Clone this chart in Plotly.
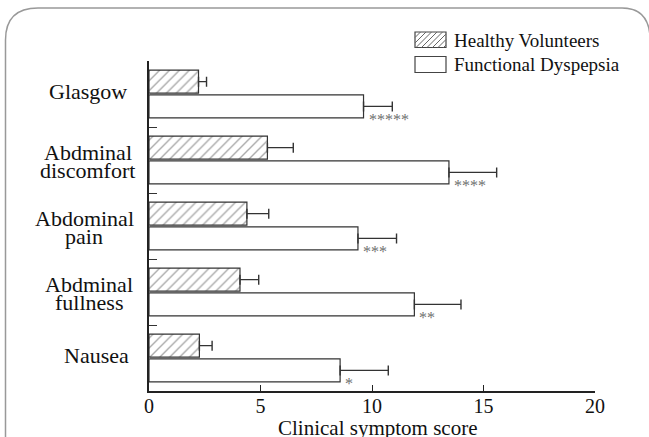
import plotly.graph_objects as go

# Symptom categories (top to bottom) and their two-line display labels
categories = ["Glasgow", "Abdminal discomfort", "Abdominal pain", "Abdminal fullness", "Nausea"]
label_lines = [["Glasgow"], ["Abdminal", "discomfort"], ["Abdominal", "pain"],
               ["Abdminal", "fullness"], ["Nausea"]]

# Mean clinical symptom scores and upper error (SD)
healthy = [2.22, 5.31, 4.39, 4.08, 2.26]
healthy_err = [0.36, 1.16, 0.98, 0.84, 0.57]
dyspepsia = [9.62, 13.45, 9.37, 11.90, 8.57]
dyspepsia_err = [1.29, 2.14, 1.73, 2.09, 2.16]
significance = ["*****", "****", "***", "**", "*"]

x_ticks = [0, 5, 10, 15, 20]

FONT = "Liberation Serif"
W, H = 649, 437
ML, MR, MT, MB = 149, 54, 61, 46
PW, PH = W - ML - MR, H - MT - MB


def px(x):
    return (x - ML) / PW


def py(y):
    return (H - MB - y) / PH


fig = go.Figure()

fig.add_trace(go.Bar(
    name="Healthy Volunteers", y=categories, x=healthy, orientation="h",
    marker=dict(color="white", line=dict(color="#333", width=1.2),
                pattern=dict(shape="/", fgcolor="#555", bgcolor="white", size=7, solidity=0.2)),
    error_x=dict(type="data", symmetric=False, array=healthy_err, arrayminus=[0] * 5,
                 color="#333", thickness=1.4, width=5),
))
fig.add_trace(go.Bar(
    name="Functional Dyspepsia", y=categories, x=dyspepsia, orientation="h",
    marker=dict(color="white", line=dict(color="#333", width=1.2)),
    error_x=dict(type="data", symmetric=False, array=dyspepsia_err, arrayminus=[0] * 5,
                 color="#333", thickness=1.4, width=5),
))

annotations = []
# Category labels, one annotation per line for tight line spacing
label_cx = [88, 87.5, 84, 89, 96]
for cat, lines, cx in zip(categories, label_lines, label_cx):
    shifts = [2.5] if len(lines) == 1 else [7.8, -10.2]
    for text, ys in zip(lines, shifts):
        annotations.append(dict(
            text=text, xref="paper", x=px(cx), xanchor="center",
            yref="y", y=cat, yanchor="middle", yshift=ys, showarrow=False,
            font=dict(family=FONT, size=22, color="#111")))

# Significance markers next to the dyspepsia bars
for cat, val, stars in zip(categories, dyspepsia, significance):
    annotations.append(dict(
        text=stars, xref="x", x=val, xanchor="left", xshift=3,
        yref="y", y=cat, yanchor="middle", yshift=-25, showarrow=False,
        font=dict(family=FONT, size=16, color="#6f6f6f")))

# Axis title
annotations.append(dict(
    text="Clinical symptom score", xref="paper", x=px(377), xanchor="center",
    yref="paper", y=py(428), yanchor="middle", showarrow=False,
    font=dict(family=FONT, size=21, color="#111")))

# Legend text
for text, yc in [("Healthy Volunteers", 40.5), ("Functional Dyspepsia", 64.5)]:
    annotations.append(dict(
        text=text, xref="paper", x=px(452), xanchor="left",
        yref="paper", y=py(yc), yanchor="middle", showarrow=False,
        font=dict(family=FONT, size=19, color="#111")))

shapes = []
# Legend swatches
for y0, y1 in [(32, 47.5), (56.5, 72.5)]:
    shapes.append(dict(type="rect", xref="paper", yref="paper",
                       x0=px(415), x1=px(446), y0=py(y1), y1=py(y0),
                       line=dict(color="#444", width=1.2), fillcolor="white"))
# Hatching inside the first swatch
bx0, bx1, by0, by1 = 415, 446, 32, 47.5
h = by1 - by0
s = -h
while s < bx1 - bx0:
    xa, ya = bx0 + s, by1
    xb, yb = bx0 + s + h, by0
    if xa < bx0:
        t = bx0 - xa
        xa, ya = bx0, by1 - t
    if xb > bx1:
        t = xb - bx1
        xb, yb = bx1, by0 + t
    if xb > xa:
        shapes.append(dict(type="line", xref="paper", yref="paper",
                           x0=px(xa), y0=py(ya), x1=px(xb), y1=py(yb),
                           line=dict(color="#666", width=1)))
    s += 5.5

# Rounded frame around the figure
frame = (f"M {px(5.5)},{py(445)} L {px(5.5)},{py(40)} "
         f"Q {px(5.5)},{py(8)} {px(38)},{py(8)} "
         f"L {px(622)},{py(8)} "
         f"Q {px(648)},{py(8)} {px(650)},{py(36)}")
shapes.append(dict(type="path", xref="paper", yref="paper", path=frame,
                   line=dict(color="#999", width=1.5)))

fig.update_layout(
    width=W, height=H,
    margin=dict(l=ML, r=MR, t=MT, b=MB),
    paper_bgcolor="white", plot_bgcolor="white",
    barmode="group", bargap=0.25, bargroupgap=0.07,
    showlegend=False,
    font=dict(family=FONT, color="#111"),
    xaxis=dict(range=[0, 20], tickvals=x_ticks, ticks="inside", ticklen=6,
               tickwidth=1.4, tickcolor="#222", showline=True, linecolor="#222",
               linewidth=1.5, showgrid=False, zeroline=False,
               tickfont=dict(family=FONT, size=20, color="#111"),
               ticklabelstandoff=-4),
    yaxis=dict(type="category", categoryarray=categories, range=[4.5, -0.5],
               tickson="boundaries", ticks="inside", ticklen=8, tickwidth=1.2,
               tickcolor="#333", showticklabels=False, showline=True,
               linecolor="#222", linewidth=1.5, showgrid=False),
    annotations=annotations,
    shapes=shapes,
)

fig.write_html("out.html")
